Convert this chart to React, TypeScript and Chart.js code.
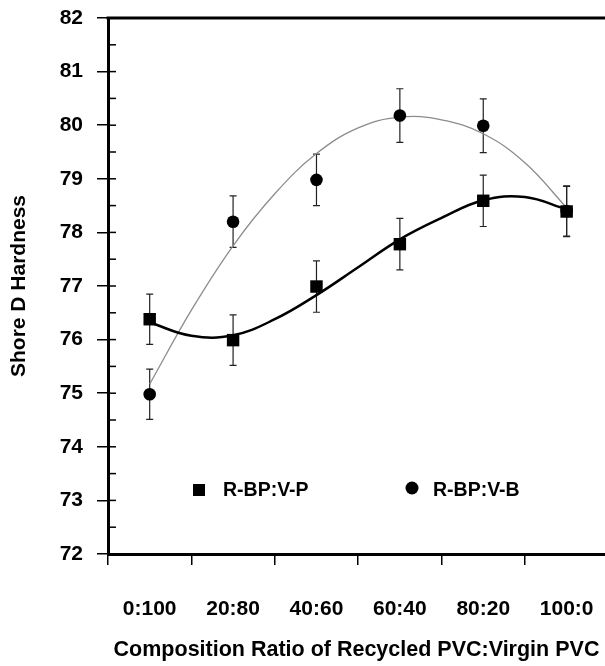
import React, { useEffect, useRef } from "react";
import { Chart, registerables } from "chart.js";

Chart.register(...registerables);

const categories = ["0:100", "20:80", "40:60", "60:40", "80:20", "100:0"];
const categoryPositions = [0.5, 1.5, 2.5, 3.5, 4.5, 5.5];

const seriesNames = ["R-BP:V-P", "R-BP:V-B"];
const vpValues = [76.38, 75.99, 76.99, 77.78, 78.59, 78.39];
const vbValues = [74.98, 78.2, 78.98, 80.18, 79.99, 78.4];
const vpErrors = [0.47, 0.47, 0.48, 0.48, 0.48, 0.47];
const vbErrors = [0.47, 0.48, 0.48, 0.5, 0.5, 0.47];

// fitted trend curves
const vpFitX = [0.5, 1.0, 1.5, 2.0, 2.5, 3.0, 3.5, 4.0, 4.5, 5.0, 5.5];
const vpFitY = [76.32, 76.07, 76.08, 76.38, 76.83, 77.35, 77.87, 78.27, 78.6, 78.66, 78.43];
const vbFitX = [0.5, 1.0, 1.5, 2.0, 2.5, 3.0, 3.5, 4.0, 4.5, 5.0, 5.5];
const vbFitY = [75.17, 76.55, 77.75, 78.72, 79.47, 79.95, 80.15, 80.1, 79.84, 79.3, 78.46];

const yTicks = [72, 73, 74, 75, 76, 77, 78, 79, 80, 81, 82];
const yInnerTicks = [72, 72.5, 73, 73.5, 74, 74.5, 75, 75.5, 76, 76.5, 77, 77.5, 78, 78.5, 79, 79.5, 80, 80.5, 81, 81.5, 82];

const FONT = "'Liberation Sans', Arial, Helvetica, sans-serif";

const pts = (xs: number[], ys: number[]) => xs.map((x, i) => ({ x, y: ys[i] }));

const decorPlugin = {
  id: "decor",
  beforeDatasetsDraw(chart: any) {
    const { ctx, scales } = chart;
    const xs = scales.x;
    const ys = scales.y;
    const sets = [
      { v: vpValues, e: vpErrors },
      { v: vbValues, e: vbErrors },
    ];
    ctx.save();
    ctx.strokeStyle = "#222";
    ctx.lineWidth = 1.2;
    sets.forEach((s) => {
      s.v.forEach((val, i) => {
        const px = xs.getPixelForValue(categoryPositions[i]);
        const top = ys.getPixelForValue(val + s.e[i]);
        const bot = ys.getPixelForValue(val - s.e[i]);
        ctx.beginPath();
        ctx.moveTo(px, top);
        ctx.lineTo(px, bot);
        ctx.moveTo(px - 3.5, top);
        ctx.lineTo(px + 3.5, top);
        ctx.moveTo(px - 3.5, bot);
        ctx.lineTo(px + 3.5, bot);
        ctx.stroke();
      });
    });
    ctx.restore();
  },
  afterDraw(chart: any) {
    const { ctx, chartArea, scales } = chart;
    const ys = scales.y;
    ctx.save();
    // top frame line
    ctx.strokeStyle = "#000";
    ctx.lineWidth = 3;
    ctx.beginPath();
    ctx.moveTo(chartArea.left - 1.5, chartArea.top);
    ctx.lineTo(chartArea.right, chartArea.top);
    ctx.stroke();
    // inward ticks on the y axis
    ctx.lineWidth = 1.5;
    yInnerTicks.forEach((v) => {
      const py = ys.getPixelForValue(v);
      ctx.beginPath();
      ctx.moveTo(chartArea.left, py);
      ctx.lineTo(chartArea.left + 8, py);
      ctx.stroke();
    });
    // legend
    const ly = chartArea.top + 472;
    ctx.fillStyle = "#000";
    ctx.font = `bold 19.5px ${FONT}`;
    ctx.textBaseline = "middle";
    ctx.textAlign = "left";
    ctx.fillRect(chartArea.left + 85, ly - 6, 12, 12);
    ctx.fillText(seriesNames[0], chartArea.left + 115, ly + 1);
    ctx.beginPath();
    ctx.arc(chartArea.left + 304, ly - 2, 6.5, 0, Math.PI * 2);
    ctx.fill();
    ctx.fillText(seriesNames[1], chartArea.left + 325, ly + 1);
    ctx.restore();
  },
};

export default function App() {
  const ref = useRef<HTMLCanvasElement>(null);
  useEffect(() => {
    if (!ref.current) return;
    const chart = new Chart(ref.current, {
      type: "scatter",
      data: {
        datasets: [
          {
            label: seriesNames[0],
            data: pts(categoryPositions, vpValues),
            pointStyle: "rect",
            pointRadius: 8.8,
            backgroundColor: "#000",
            borderColor: "#000",
            borderWidth: 0,
            showLine: false,
            order: 0,
          },
          {
            label: seriesNames[1],
            data: pts(categoryPositions, vbValues),
            pointStyle: "circle",
            pointRadius: 6.3,
            backgroundColor: "#000",
            borderColor: "#000",
            borderWidth: 0,
            showLine: false,
            order: 0,
          },
          {
            label: "fit V-P",
            data: pts(vpFitX, vpFitY),
            showLine: true,
            pointRadius: 0,
            borderColor: "#000",
            borderWidth: 2.5,
            tension: 0.4,
            order: 1,
          } as any,
          {
            label: "fit V-B",
            data: pts(vbFitX, vbFitY),
            showLine: true,
            pointRadius: 0,
            borderColor: "#8c8c8c",
            borderWidth: 1.3,
            tension: 0.4,
            order: 1,
          } as any,
        ],
      },
      options: {
        animation: false,
        responsive: false,
        layout: { autoPadding: false, padding: { top: 18, right: 0, left: 0, bottom: 0 } },
        plugins: { legend: { display: false }, tooltip: { enabled: false } },
        scales: {
          x: {
            type: "linear",
            min: 0,
            max: 5.96,
            afterBuildTicks: (s: any) => {
              s.ticks = categoryPositions.map((v) => ({ value: v }));
            },
            afterFit: (s: any) => {
              s.height = 112;
              s.paddingLeft = 0;
              s.paddingRight = 0;
            },
            ticks: {
              autoSkip: false,
              maxRotation: 0,
              color: "#000",
              padding: 32,
              font: { family: FONT, size: 21, weight: "bold" },
              callback: (_v: any, i: number) => categories[i],
            },
            grid: {
              offset: true,
              drawOnChartArea: false,
              drawTicks: true,
              tickLength: 11,
              color: "#000",
              lineWidth: 1.5,
            },
            border: { display: true, color: "#000", width: 3 },
            title: {
              display: true,
              text: "Composition Ratio of Recycled PVC:Virgin PVC",
              color: "#000",
              font: { family: FONT, size: 21.5, weight: "bold" },
              padding: { top: 0, bottom: 3 },
            },
          },
          y: {
            type: "linear",
            min: 72,
            max: 82,
            afterBuildTicks: (s: any) => {
              s.ticks = yTicks.map((v) => ({ value: v }));
            },
            afterFit: (s: any) => {
              s.width = 108;
              s.paddingTop = 0;
              s.paddingBottom = 0;
            },
            ticks: {
              color: "#000",
              padding: 14,
              font: { family: FONT, size: 21, weight: "bold" },
            },
            grid: {
              drawOnChartArea: false,
              drawTicks: true,
              tickLength: 11,
              color: "#000",
              lineWidth: 1.5,
            },
            border: { display: true, color: "#000", width: 3 },
            title: {
              display: true,
              text: "Shore D Hardness",
              color: "#000",
              font: { family: FONT, size: 21, weight: "bold" },
              padding: { top: 7, bottom: 0 },
            },
          },
        },
      },
      plugins: [decorPlugin],
    });
    return () => chart.destroy();
  }, []);
  return (
    <div style={{ position: "absolute", left: 0, top: 0, width: 605, height: 666, background: "#fff" }}>
      <canvas ref={ref} width={605} height={666} style={{ display: "block" }} />
    </div>
  );
}
